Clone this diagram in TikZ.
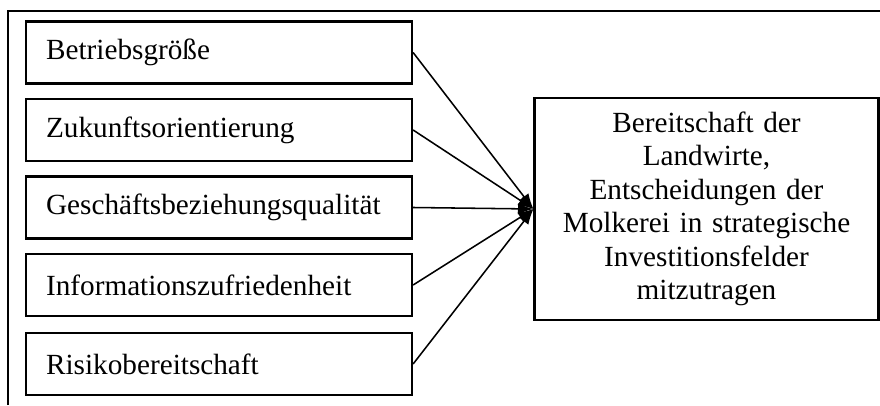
\documentclass[tikz,border=0pt]{standalone}
\usepackage{fontspec}
\setmainfont{Liberation Serif}
\usepackage{tikz}
\usetikzlibrary{arrows.meta}
\pgfkeys{/tikz/>=Latex}

\tikzset{
  factor/.style={draw, line width=1.5pt, anchor=west, text width=8.65cm, inner xsep=0.5cm,
    minimum height=1.55cm, align=left, font=\fontsize{20.8}{23.4}\selectfont},
  target/.style={draw, line width=1.5pt, text width=8.4cm, inner xsep=0.1cm,
    minimum height=5.55cm, align=center, font=\fontsize{20.8}{23.8}\selectfont},
  link/.style={line width=1.1pt, -{Latex[length=11pt,width=8pt]}}
}

\begin{document}
\begin{tikzpicture}
    \useasboundingbox (0,0) rectangle (22,10.125);

    % outer frame (left and top)
    \draw[line width=1.5pt] (0.21,0) -- (0.21,9.85) -- (22,9.85);

    % influencing factors
    \node[factor] (groesse)     at (0.625,8.8125) {Betriebsgröße};
    \node[factor] (zukunft)     at (0.625,6.875)  {Zukunftsorientierung};
    \node[factor] (beziehung)   at (0.625,4.9375) {Geschäftsbeziehungsqualität};
    \node[factor] (information) at (0.625,3.0)    {Informationszufriedenheit};
    \node[factor] (risiko)      at (0.625,1.025)  {Risikobereitschaft};

    % dependent variable
    \node[target] (bereitschaft) at (17.6625,4.9) {Bereitschaft der\\ Landwirte,\\ Entscheidungen der\\ Molkerei in strategische\\ Investitionsfelder\\ mitzutragen};

    % arrows into the box
    \draw[link] (groesse.east)     -- (bereitschaft.west);
    \draw[link] (zukunft.east)     -- (bereitschaft.west);
    \draw[link] (beziehung.east)   -- (bereitschaft.west);
    \draw[link] (information.east) -- (bereitschaft.west);
    \draw[link] (risiko.east)      -- (bereitschaft.west);
\end{tikzpicture}
\end{document}
